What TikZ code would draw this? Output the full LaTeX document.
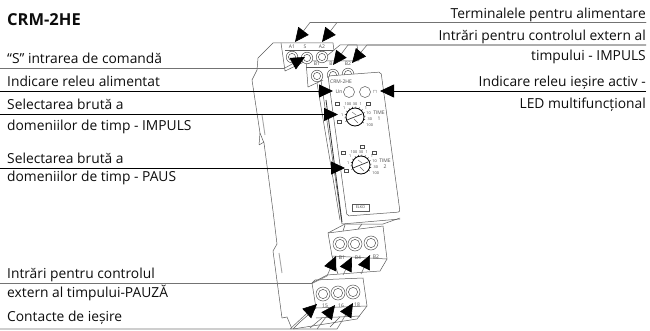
\documentclass[tikz,border=0pt]{standalone}
\usepackage{fontspec}
\setmainfont{Open Sans}
\usetikzlibrary{arrows.meta,calc}

\begin{document}
\begin{tikzpicture}[
    x=1pt, y=-1pt,
    every node/.style={inner sep=0pt, font=\fontsize{13.8}{15}\selectfont, text=black!95},
    lbl/.style={anchor=base west},
    rlbl/.style={anchor=base east},
    tiny/.style={font=\fontsize{5}{5}\selectfont, text=black!70},
    micro/.style={font=\fontsize{3.8}{4}\selectfont, text=black!75},
    body/.style={draw=black!65, line width=0.5pt},
    sq/.style={draw=black!70, line width=0.4pt},
    blead/.style={draw=black, line width=0.8pt, -{Triangle[length=14pt,width=13pt]}},
    glead/.style={draw=black!55, line width=0.6pt, -{Triangle[length=14pt,width=13pt,color=black,fill=black]}}
]
    \useasboundingbox (0,0) rectangle (650,331);

    % clip at the back
    \draw[body] (280,43) -- (273,43) -- (258,58) -- (257,70) -- (252,80) -- (260,133) -- (264,143) -- (273,211) -- (277,244) -- (273,251) -- (282,318) -- (287,317) -- (292,329);
    \draw[body] (259,145) -- (264,142) (259,145) -- (260,133);
    \draw[body, line width=0.9pt, draw=black!35] (262,115) -- (265,135);
    \draw[body, line width=0.9pt, draw=black!35] (279,253) -- (282,273);

    % top terminals
    \draw[body] (280,43) -- (333,43) -- (334,51);
    \draw[body] (281,43) -- (285,71) -- (306,61);
    \draw[body] (306,61) -- (308,87) -- (323,80);
    \draw[body] (306,61) -- (359,61) (322,60) -- (340,45) -- (357,45) (359,61) -- (357,45);
    \draw[body] (285,50) -- (333,50);
    \draw[body] (306,67) -- (328,67);
    \foreach \cx/\cy in {292/57, 307/58, 322/57, 317/76, 333/75, 348/74}
        \draw[body, fill=white] (\cx,\cy) circle (5.8) (\cx,\cy) circle (3.6);
    \node[tiny] (tA) at (292,47) {A1};
    \node[tiny] (tS) at (305,47) {S};
    \node[tiny] (tB) at (322,47) {A2};
    \node[tiny] (tC) at (317,64) {B1};
    \node[tiny] (tD) at (331,64) {B};
    \node[tiny] (tE) at (348,64) {B2};

    % front panel
    \draw[body, fill=white, rounded corners=2pt] (328,76) -- (381,72) -- (400,212) -- (347,216) -- cycle;
    \draw[body] (321,80) -- (342,224) -- (400,219);
    \draw[body] (317,83) -- (340,220);
    \draw[line width=0.8pt, draw=black!80] (326,100) -- (342,222);
    \node[tiny] (tcrm) at (341,82) {CRM-2HE};
    \node[tiny] (tun) at (339,92) {Un};
    \node[tiny] (trel) at (375,92) {$\sqcap$};
    \draw[body] (349,92) circle (5.5) (365,92) circle (5.5);

    % dials
    \foreach \dx/\dy/\tn/\ty in {355/117/1/113, 361/165/2/161} {
        \draw[black, line width=0.8pt, fill=white] (\dx,\dy) circle (9);
        \draw[black!80, line width=0.7pt] (\dx-8,\dy+3) -- (\dx+7,\dy-3);
        \draw[black!60, line width=0.4pt] (\dx-3,\dy-5) -- (\dx+1,\dy-2) (\dx-1,\dy+2) -- (\dx+3,\dy+6);
        \foreach \a in {-35,-15,...,205}
            \draw[black, line width=0.5pt] ($(\dx,\dy)+(\a:9pt)$) -- ($(\dx,\dy)+(\a:10.5pt)$);
        \foreach \a/\v/\r in {172/1/13, 140/1/14, 118/100/15, 90/30/13, 66/1/14, 38/1/14, 14/10/14, -8/30/15, -30/100/17}
            \node[micro] at ($(\dx,\dy)+(\a:\r pt)$) {\v};
        \node[tiny] at (\dx+24,\ty) {TIME};
        \node[tiny] at (\dx+24,\ty+6) {\tn};
    }
    \foreach \qx/\qy in {337/104, 368/104, 339/122, 343/153, 362/147, 374/153, 346/171}
        \draw[sq] (\qx-1.7,\qy-1.7) rectangle (\qx+1.7,\qy+1.7);
    \draw[body] (352,204) rectangle (369,211);
    \node[micro] (tlogo) at (360.5,207.5) {ELKO};

    % bottom terminals, upper row
    \draw[body] (328,233) -- (345,224) -- (383,224) -- (400,218);
    \draw[body] (328,233) -- (332,256) -- (338,274) (383,226) -- (387,259) -- (380,271);
    \draw[body] (328,233) -- (383,226);
    \draw[body] (332,256) -- (387,259);
    \draw[body] (312,283) -- (327,275) -- (380,271);
    \draw[body] (345,225) -- (343,231) (362,224) -- (358,229);
    \foreach \cx/\cy in {340/244, 355/244, 371/243}
        \draw[body, fill=white] (\cx,\cy) circle (7) (\cx,\cy) circle (4.6);
    \node[tiny] (tF) at (342,258) {B1};
    \node[tiny] (tG) at (358,258) {B4};
    \node[tiny] (tH) at (376,257) {B2};

    % bottom terminals, lower row
    \draw[body] (312,283) -- (315,280) -- (363,278) -- (367,306) -- (357,319) -- (293,329);
    \draw[body] (312,283) -- (316,308) -- (300,322) -- (293,329);
    \draw[body] (316,308) -- (367,306);
    \draw[body] (316,318) -- (360,316);
    \draw[body] (310,328) -- (322,318) (330,327) -- (340,317);
    \foreach \cx/\cy in {323/294, 338/293, 353/292}
        \draw[body, fill=white] (\cx,\cy) circle (7) (\cx,\cy) circle (4.6);
    \node[tiny] (tJ) at (325,306) {15};
    \node[tiny] (tK) at (341,306) {16};
    \node[tiny] (tL) at (357,305) {18};

    % title and labels, left
    \node[lbl, font=\fontsize{16.5}{18}\selectfont\bfseries] (title) at (7,26) {CRM-2HE};
    \node[lbl] (lblS) at (7,64) {“S” intrarea de comandă};
    \node[lbl] (lblUn) at (7,87) {Indicare releu alimentat};
    \node[lbl] (lblImp) at (7,110) {Selectarea brută a};
    \node[lbl] (lblImpb) at (7,131) {domeniilor de timp - IMPULS};
    \node[lbl] (lblPau) at (7,164) {Selectarea brută a};
    \node[lbl] (lblPaub) at (7,182) {domeniilor de timp - PAUS};
    \node[lbl] (lblExt) at (7,278) {Intrări pentru controlul};
    \node[lbl] (lblExtb) at (7,297) {extern al timpului-PAUZĂ};
    \node[lbl] (lblOut) at (7,321) {Contacte de ieșire};

    % labels, right
    \node[rlbl] (lblTerm) at (646,19) {Terminalele pentru alimentare};
    \node[rlbl] (lblCtl) at (646,41) {Intrări pentru controlul extern al};
    \node[rlbl] (lblCtlb) at (646,61) {timpului - IMPULS};
    \node[rlbl] (lblLed) at (646,87) {Indicare releu ieșire activ -};
    \node[rlbl] (lblLedb) at (646,109) {LED multifuncțional};

    % free ends of the leaders
    \coordinate (rTerm) at (646,22.5);
    \coordinate (rCtl) at (646,45);
    \coordinate (lS) at (0,68.5);
    \coordinate (lExt) at (0,283.5);
    \coordinate (lOut) at (0,329);
    \coordinate (lUn) at (0,91);
    \coordinate (lImp) at (0,114.5);
    \coordinate (lPau) at (0,168);
    \coordinate (rLed) at (646,91);
    \coordinate (eA) at (310,22.5);
    \coordinate (eB) at (337,22.5);
    \coordinate (eC) at (348,45);
    \coordinate (eD) at (367,45);
    \coordinate (eS) at (284,68.5);
    \coordinate (dialA) at (338,114.5);
    \coordinate (dialB) at (345,168);

    % black leaders
    \draw[blead] (lUn) -- (333,91);
    \draw[blead] (rLed) -- (380,91);
    \draw[blead] (lImp) -- (dialA);
    \draw[blead] (lPau) -- (dialB);

    % grey leaders
    \draw[glead] (rTerm) -- (eA) -- (295,42);
    \draw[glead] (rTerm) -- (eB) -- (322,42);
    \draw[glead] (rCtl) -- (eC) -- (333,65);
    \draw[glead] (rCtl) -- (eD) -- (352,63);
    \draw[glead] (lS) -- (eS) -- (305,57);

    \coordinate (eF) at (327,276);
    \coordinate (eG) at (343,275);
    \coordinate (eH) at (361,274);
    \draw[glead] (lExt) -- (312,283.5) -- (eF) -- (336,256);
    \draw[glead] (eG) -- (352,257);
    \draw[glead] (eH) -- (370,255);

    \coordinate (eJ) at (290,329);
    \coordinate (eK) at (317,329);
    \coordinate (eL) at (337,329);
    \draw[glead] (lOut) -- (eJ) -- (317,304);
    \draw[glead] (eJ) -- (eK) -- (335,305);
    \draw[glead] (eK) -- (eL) -- (353,303);
\end{tikzpicture}
\end{document}
